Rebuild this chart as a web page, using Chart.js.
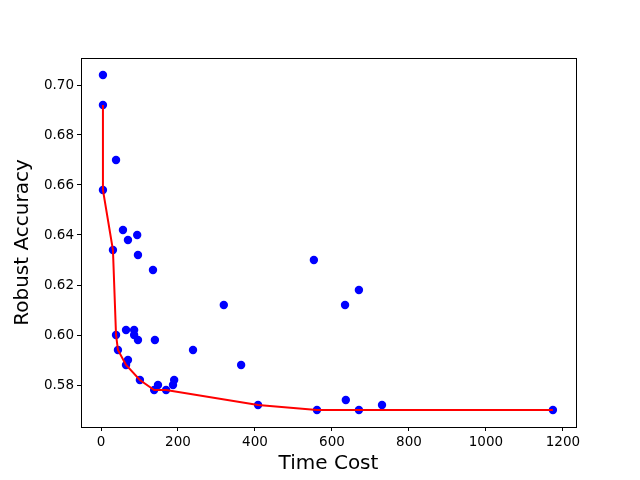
<!DOCTYPE html>
<html>
<head>
<meta charset="utf-8">
<script src="https://cdn.jsdelivr.net/npm/chart.js@4.4.1/dist/chart.umd.min.js"></script>
<style>
	html, body { margin: 0; padding: 0; background: #fff; }
	#chart-box { width: 640px; height: 480px; }
</style>
</head>
<body>
<div id="chart-box"><canvas id="chart-canvas"></canvas></div>
<script>
// all sampled configurations
var timeCost = [5, 5, 39, 5, 57, 70, 94, 31, 96, 135, 553, 319, 634, 670, 39, 65, 86, 86, 96, 140, 44, 239, 364, 70, 65, 101, 138, 148, 169, 190, 187, 408, 561, 636, 670, 730, 1174];
var robustAcc = [0.704, 0.692, 0.670, 0.658, 0.642, 0.638, 0.640, 0.634, 0.632, 0.626, 0.630, 0.612, 0.612, 0.618, 0.600, 0.602, 0.602, 0.600, 0.598, 0.598, 0.594, 0.594, 0.588, 0.590, 0.588, 0.582, 0.578, 0.580, 0.578, 0.582, 0.580, 0.572, 0.570, 0.574, 0.570, 0.572, 0.570];

// front line
var frontTime = [5, 5, 31, 39, 44, 65, 101, 138, 169, 408, 561, 1174];
var frontAcc = [0.692, 0.658, 0.634, 0.600, 0.594, 0.588, 0.582, 0.578, 0.578, 0.572, 0.570, 0.570];

var xTicks = [0, 200, 400, 600, 800, 1000, 1200];
var yTicks = [0.58, 0.60, 0.62, 0.64, 0.66, 0.68, 0.70];

function toPoints(xs, ys) {
	var pts = [];
	for(let i = 0; i < xs.length; i++)
		pts.push({x: xs[i], y: ys[i]});
	return pts;
}

var frameBox = {
	id: 'frameBox',
	afterDatasetsDraw: function(chart) {
		var a = chart.chartArea;
		var ctx = chart.ctx;
		ctx.save();
		ctx.strokeStyle = '#000';
		ctx.lineWidth = 1;
		ctx.strokeRect(Math.round(a.left) + 0.5, Math.round(a.top) + 0.5, Math.round(a.right - a.left), Math.round(a.bottom - a.top));
		ctx.restore();
	}
};

Chart.defaults.font.family = "'DejaVu Sans', sans-serif";
Chart.defaults.color = '#000';

new Chart(document.getElementById('chart-canvas'), {
	type: 'scatter',
	data: {
		datasets: [{
			type: 'line',
			data: toPoints(frontTime, frontAcc),
			borderColor: '#ff0000',
			borderWidth: 2,
			pointRadius: 0,
			fill: false,
			tension: 0,
			order: 0
		}, {
			data: toPoints(timeCost, robustAcc),
			backgroundColor: '#0000ff',
			borderColor: '#0000ff',
			pointRadius: 4.2,
			borderWidth: 0,
			order: 1
		}]
	},
	plugins: [frameBox],
	options: {
		responsive: true,
		maintainAspectRatio: false,
		animation: false,
		layout: {
			padding: {top: 58, right: 64, left: 0, bottom: 0}
		},
		plugins: {
			legend: {display: false},
			tooltip: {enabled: false}
		},
		scales: {
			x: {
				type: 'linear',
				min: -52,
				max: 1234,
				afterBuildTicks: function(scale) { scale.ticks = xTicks.map(function(v) { return {value: v}; }); },
				afterFit: function(scale) { scale.height = 53; },
				grid: {drawOnChartArea: false, drawTicks: true, tickLength: 4, color: '#000'},
				border: {display: true, color: '#000'},
				ticks: {font: {size: 13.5}, padding: 3, maxRotation: 0, callback: function(v) { return String(v); }},
				title: {display: true, text: 'Time Cost', font: {size: 20}, padding: {top: 2, bottom: 4}}
			},
			y: {
				type: 'linear',
				min: 0.5632,
				max: 0.7108,
				afterBuildTicks: function(scale) { scale.ticks = yTicks.map(function(v) { return {value: v}; }); },
				afterFit: function(scale) { scale.width = 81; },
				grid: {drawOnChartArea: false, drawTicks: true, tickLength: 4, color: '#000'},
				border: {display: true, color: '#000'},
				ticks: {font: {size: 13.5}, padding: 3, callback: function(v) { return v.toFixed(2); }},
				title: {display: true, text: 'Robust Accuracy', font: {size: 20}, padding: {top: 11, bottom: 0}}
			}
		}
	}
});
</script>
</body>
</html>
